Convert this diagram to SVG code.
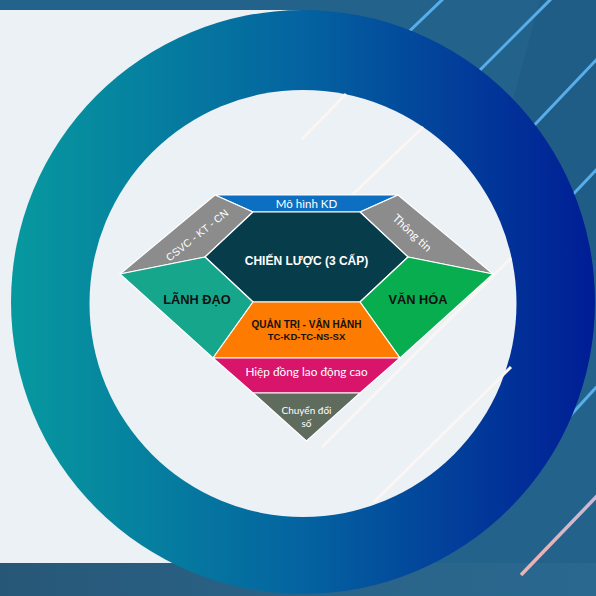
<svg xmlns="http://www.w3.org/2000/svg" width="596" height="596" viewBox="0 0 596 596">
  <defs>
    <linearGradient id="ringGrad" x1="11" y1="0" x2="595" y2="0" gradientUnits="userSpaceOnUse">
      <stop offset="0" stop-color="#07999f"/>
      <stop offset="0.5" stop-color="#0463a0"/>
      <stop offset="1" stop-color="#001d95"/>
    </linearGradient>
    <linearGradient id="bandGrad" x1="0" y1="0" x2="596" y2="0" gradientUnits="userSpaceOnUse">
      <stop offset="0" stop-color="#275777"/>
      <stop offset="0.5" stop-color="#2a6387"/>
      <stop offset="1" stop-color="#2a6890"/>
    </linearGradient>
    <linearGradient id="pinkGrad" x1="596" y1="497" x2="521" y2="575" gradientUnits="userSpaceOnUse">
      <stop offset="0" stop-color="#c7b9d6"/>
      <stop offset="1" stop-color="#f2b2ac"/>
    </linearGradient>
    <style>
      .seg { stroke: #ffffff; stroke-width: 1.2; stroke-linejoin: round; }
      .bl { stroke: #58aeea; stroke-width: 3; fill: none; }
      .wl { stroke: #fbf6f4; stroke-width: 3; fill: none; }
      .lbl { font-family: Lato, "Open Sans", "Noto Sans", sans-serif; fill: #ffffff; text-anchor: middle; }
      .side { font-family: "Liberation Sans", Arial, sans-serif; fill: #ffffff; text-anchor: middle; }
      .bold { font-family: "Liberation Sans", Arial, sans-serif; font-weight: bold; text-anchor: middle; }
    </style>
  </defs>

  <!-- background -->
  <rect x="0" y="0" width="596" height="596" fill="#23628b"/>
  <polygon points="540,0 596,0 596,260 470,260" fill="#1e5a84" opacity="0.6"/>
  <rect x="0" y="10" width="303" height="553" fill="#ecf1f5"/>
  <rect x="0" y="563" width="596" height="33" fill="url(#bandGrad)"/>

  <!-- background diagonal lines -->
  <g id="bg-lines">
    <line class="bl" x1="444" y1="-2" x2="395" y2="45" stroke="#6aa6e0"/>
    <line class="bl" x1="552" y1="-2" x2="470" y2="80"/>
    <line class="bl" x1="598" y1="58" x2="525" y2="135"/>
    <line class="bl" x1="598" y1="168" x2="562" y2="206"/>
    <line class="bl" x1="600" y1="383" x2="570" y2="416" stroke="#9fc6ec"/>
    <line x1="598" y1="495" x2="521" y2="575" stroke="url(#pinkGrad)" stroke-width="3.5"/>
  </g>

  <!-- ring -->
  <circle cx="303" cy="302" r="292" fill="url(#ringGrad)"/>
  <circle cx="303" cy="303.5" r="213.5" fill="#ecf1f5"/>

  <!-- faint lines in light area -->
  <g id="faint-lines">
    <line class="wl" x1="346" y1="94" x2="302" y2="139"/>
    <line class="wl" x1="423" y1="127" x2="300" y2="245"/>
    <line class="wl" x1="511" y1="258" x2="322" y2="447"/>
    <line class="wl" x1="511" y1="367" x2="374" y2="502"/>
  </g>

  <!-- diamond -->
  <g id="mo-hinh-kd">
    <polygon class="seg" points="215,195 398,195 360,212 253,212" fill="#0d6fc2"/>
    <text class="lbl" x="306.5" y="207.5" font-size="11.5">Mô hình KD</text>
  </g>
  <g id="csvc">
    <polygon class="seg" points="215,195 253,212 205,257 120,274" fill="#8c8c8c"/>
    <text class="side" transform="translate(197,235) rotate(-38.5)" y="3.8" font-size="10.5">CSVC - KT - CN</text>
  </g>
  <g id="thong-tin">
    <polygon class="seg" points="398,195 493,274 408,257 360,212" fill="#8c8c8c"/>
    <text class="lbl" transform="translate(412,233) rotate(43)" y="3.8" font-size="11.5">Thông tin</text>
  </g>
  <g id="chien-luoc">
    <polygon class="seg" points="253,212 360,212 408,257 360,302 253,302 205,257" fill="#073d4b"/>
    <text class="bold" x="306.5" y="265" font-size="12" fill="#ffffff">CHIẾN LƯỢC (3 CẤP)</text>
  </g>
  <g id="lanh-dao">
    <polygon class="seg" points="120,274 205,257 253,302 213,358" fill="#16a68c"/>
    <text class="bold" x="197" y="304" font-size="12.8" fill="#111111">LÃNH ĐẠO</text>
  </g>
  <g id="van-hoa">
    <polygon class="seg" points="493,274 408,257 360,302 400,358" fill="#08ad50"/>
    <text class="bold" x="418" y="304" font-size="12.8" fill="#111111">VĂN HÓA</text>
  </g>
  <g id="quan-tri">
    <polygon class="seg" points="253,302 360,302 400,358 213,358" fill="#fd7b00"/>
    <text class="bold" x="306.5" y="328" font-size="10" fill="#111111">QUẢN TRỊ - VẬN HÀNH</text>
    <text class="bold" x="306.5" y="340" font-size="9.5" fill="#111111">TC-KD-TC-NS-SX</text>
  </g>
  <g id="hiep-dong">
    <polygon class="seg" points="213,358 400,358 360,393 253,393" fill="#d8156b"/>
    <text class="lbl" x="306.5" y="376" font-size="11.8">Hiệp đồng lao động cao</text>
  </g>
  <g id="chuyen-doi-so">
    <polygon class="seg" points="253,393 360,393 306.5,441" fill="#5f6b5c"/>
    <text class="lbl" x="306.5" y="414" font-size="10" fill="#e8e8e8">Chuyển đổi</text>
    <text class="lbl" x="306.5" y="427" font-size="10" fill="#e8e8e8">số</text>
  </g>
  <g id="connectors"/>
</svg>
